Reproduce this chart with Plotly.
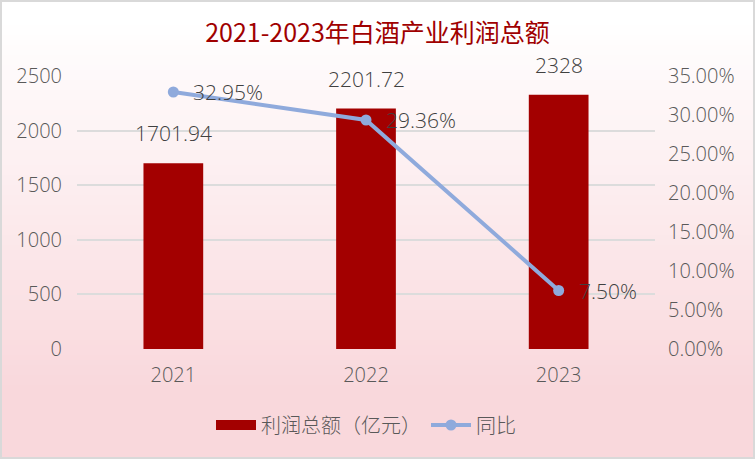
import plotly.graph_objects as go

years = ["2021", "2022", "2023"]
profit = [1701.94, 2201.72, 2328]
growth = [0.3295, 0.2936, 0.0750]
profit_labels = ["1701.94", "2201.72", "2328"]
growth_labels = ["32.95%", "29.36%", "7.50%"]
left_ticks = [0, 500, 1000, 1500, 2000, 2500]
right_ticks = [0, 0.05, 0.10, 0.15, 0.20, 0.25, 0.30, 0.35]

FONT = "Open Sans, Noto Sans CJK SC"
CJK = "Noto Sans CJK SC"
W, H = 755, 459
L, R, T, B = 77, 100, 76, 110
PW, PH = W - L - R, H - T - B


def px_to_paper_y(p):
    return (H - B - p) / PH


def px_to_paper_x(q):
    return (q - L) / PW


fig = go.Figure()
fig.add_trace(go.Bar(
    x=years, y=profit, name="利润总额（亿元）",
    marker=dict(color="#A30000", line=dict(width=0)),
    width=0.31, showlegend=False,
))
# legend-only entry with a wide swatch for the bar series
fig.add_trace(go.Scatter(
    x=[years[0]], y=[None], name="利润总额（亿元）", mode="lines",
    line=dict(color="#A30000", width=14), hoverinfo="skip",
))
fig.add_trace(go.Scatter(
    x=years, y=growth, name="同比", yaxis="y2",
    mode="lines+markers",
    line=dict(color="#8FAADC", width=4),
    marker=dict(color="#8FAADC", size=11),
    cliponaxis=False,
))

annotations = []
for i, (yv, t) in enumerate(zip(profit, profit_labels)):
    annotations.append(dict(x=i, y=yv, xref="x", yref="y", text=t,
                            showarrow=False, yshift=30, yanchor="middle",
                            font=dict(size=21, color="#404040", family=FONT, weight=300)))
for i, (yv, t) in enumerate(zip(growth, growth_labels)):
    annotations.append(dict(x=i, y=yv, xref="x", yref="y2", text=t,
                            showarrow=False, xshift=18, xanchor="left", yanchor="middle",
                            font=dict(size=21, color="#404040", family=FONT, weight=300)))

# gradient background strips (white -> pink)
shapes = []
top = (255, 255, 255)
bot = (249, 216, 220)
g0, g1 = 20, 390
step = 5
p = 0
while p < H:
    mid = p + step / 2
    t = min(max((mid - g0) / (g1 - g0), 0), 1)
    c = tuple(round(top[k] + (bot[k] - top[k]) * t) for k in range(3))
    shapes.append(dict(type="rect", xref="paper", yref="paper",
                       x0=px_to_paper_x(-2), x1=px_to_paper_x(W + 2),
                       y0=px_to_paper_y(p + step + 0.6), y1=px_to_paper_y(p),
                       fillcolor="rgb(%d,%d,%d)" % c, line=dict(width=0),
                       layer="below"))
    p += step
# outer border
shapes.append(dict(type="rect", xref="paper", yref="paper",
                   x0=px_to_paper_x(1), x1=px_to_paper_x(W - 1),
                   y0=px_to_paper_y(H - 1), y1=px_to_paper_y(1),
                   line=dict(color="#D9D9D9", width=2), fillcolor="rgba(0,0,0,0)",
                   layer="above"))

fig.update_layout(
    width=W, height=H,
    margin=dict(l=L, r=R, t=T, b=B, autoexpand=False),
    paper_bgcolor="#FFFFFF",
    plot_bgcolor="rgba(0,0,0,0)",
    font=dict(family=FONT, color="#595959", size=20, weight=300),
    title=dict(text="2021-2023年白酒产业利润总额", x=0.5, xanchor="center",
               xref="container",
               y=1 - 33 / H, yanchor="middle",
               font=dict(size=25, color="#A00000", family=CJK, weight=400)),
    xaxis=dict(type="category", categoryorder="array", categoryarray=years,
               range=[-0.5, len(years) - 0.5],
               showgrid=False, showline=False, ticks="",
               tickfont=dict(size=20, color="#595959", family=FONT, weight=300),
               ticklabelstandoff=12),
    yaxis=dict(range=[0, 2500], tickvals=left_ticks, showgrid=True,
               gridcolor="#DCDCDC", gridwidth=1.5, zeroline=False, ticks="",
               tickfont=dict(size=20, color="#595959", family=FONT, weight=300),
               ticklabelstandoff=14),
    yaxis2=dict(range=[0, 0.35], tickvals=right_ticks, tickformat=".2%",
                overlaying="y", side="right", showgrid=False, zeroline=False,
                tickfont=dict(size=20, color="#595959", family=FONT, weight=300),
                ticklabelstandoff=12),
    legend=dict(orientation="h", x=0.5, xanchor="center",
                yref="container", y=1 - 425 / H, yanchor="middle",
                font=dict(size=20, color="#595959", family=CJK, weight=300),
                bgcolor="rgba(0,0,0,0)", itemwidth=40),
    shapes=shapes,
    annotations=annotations,
    showlegend=True,
)

fig.write_html("out.html")
